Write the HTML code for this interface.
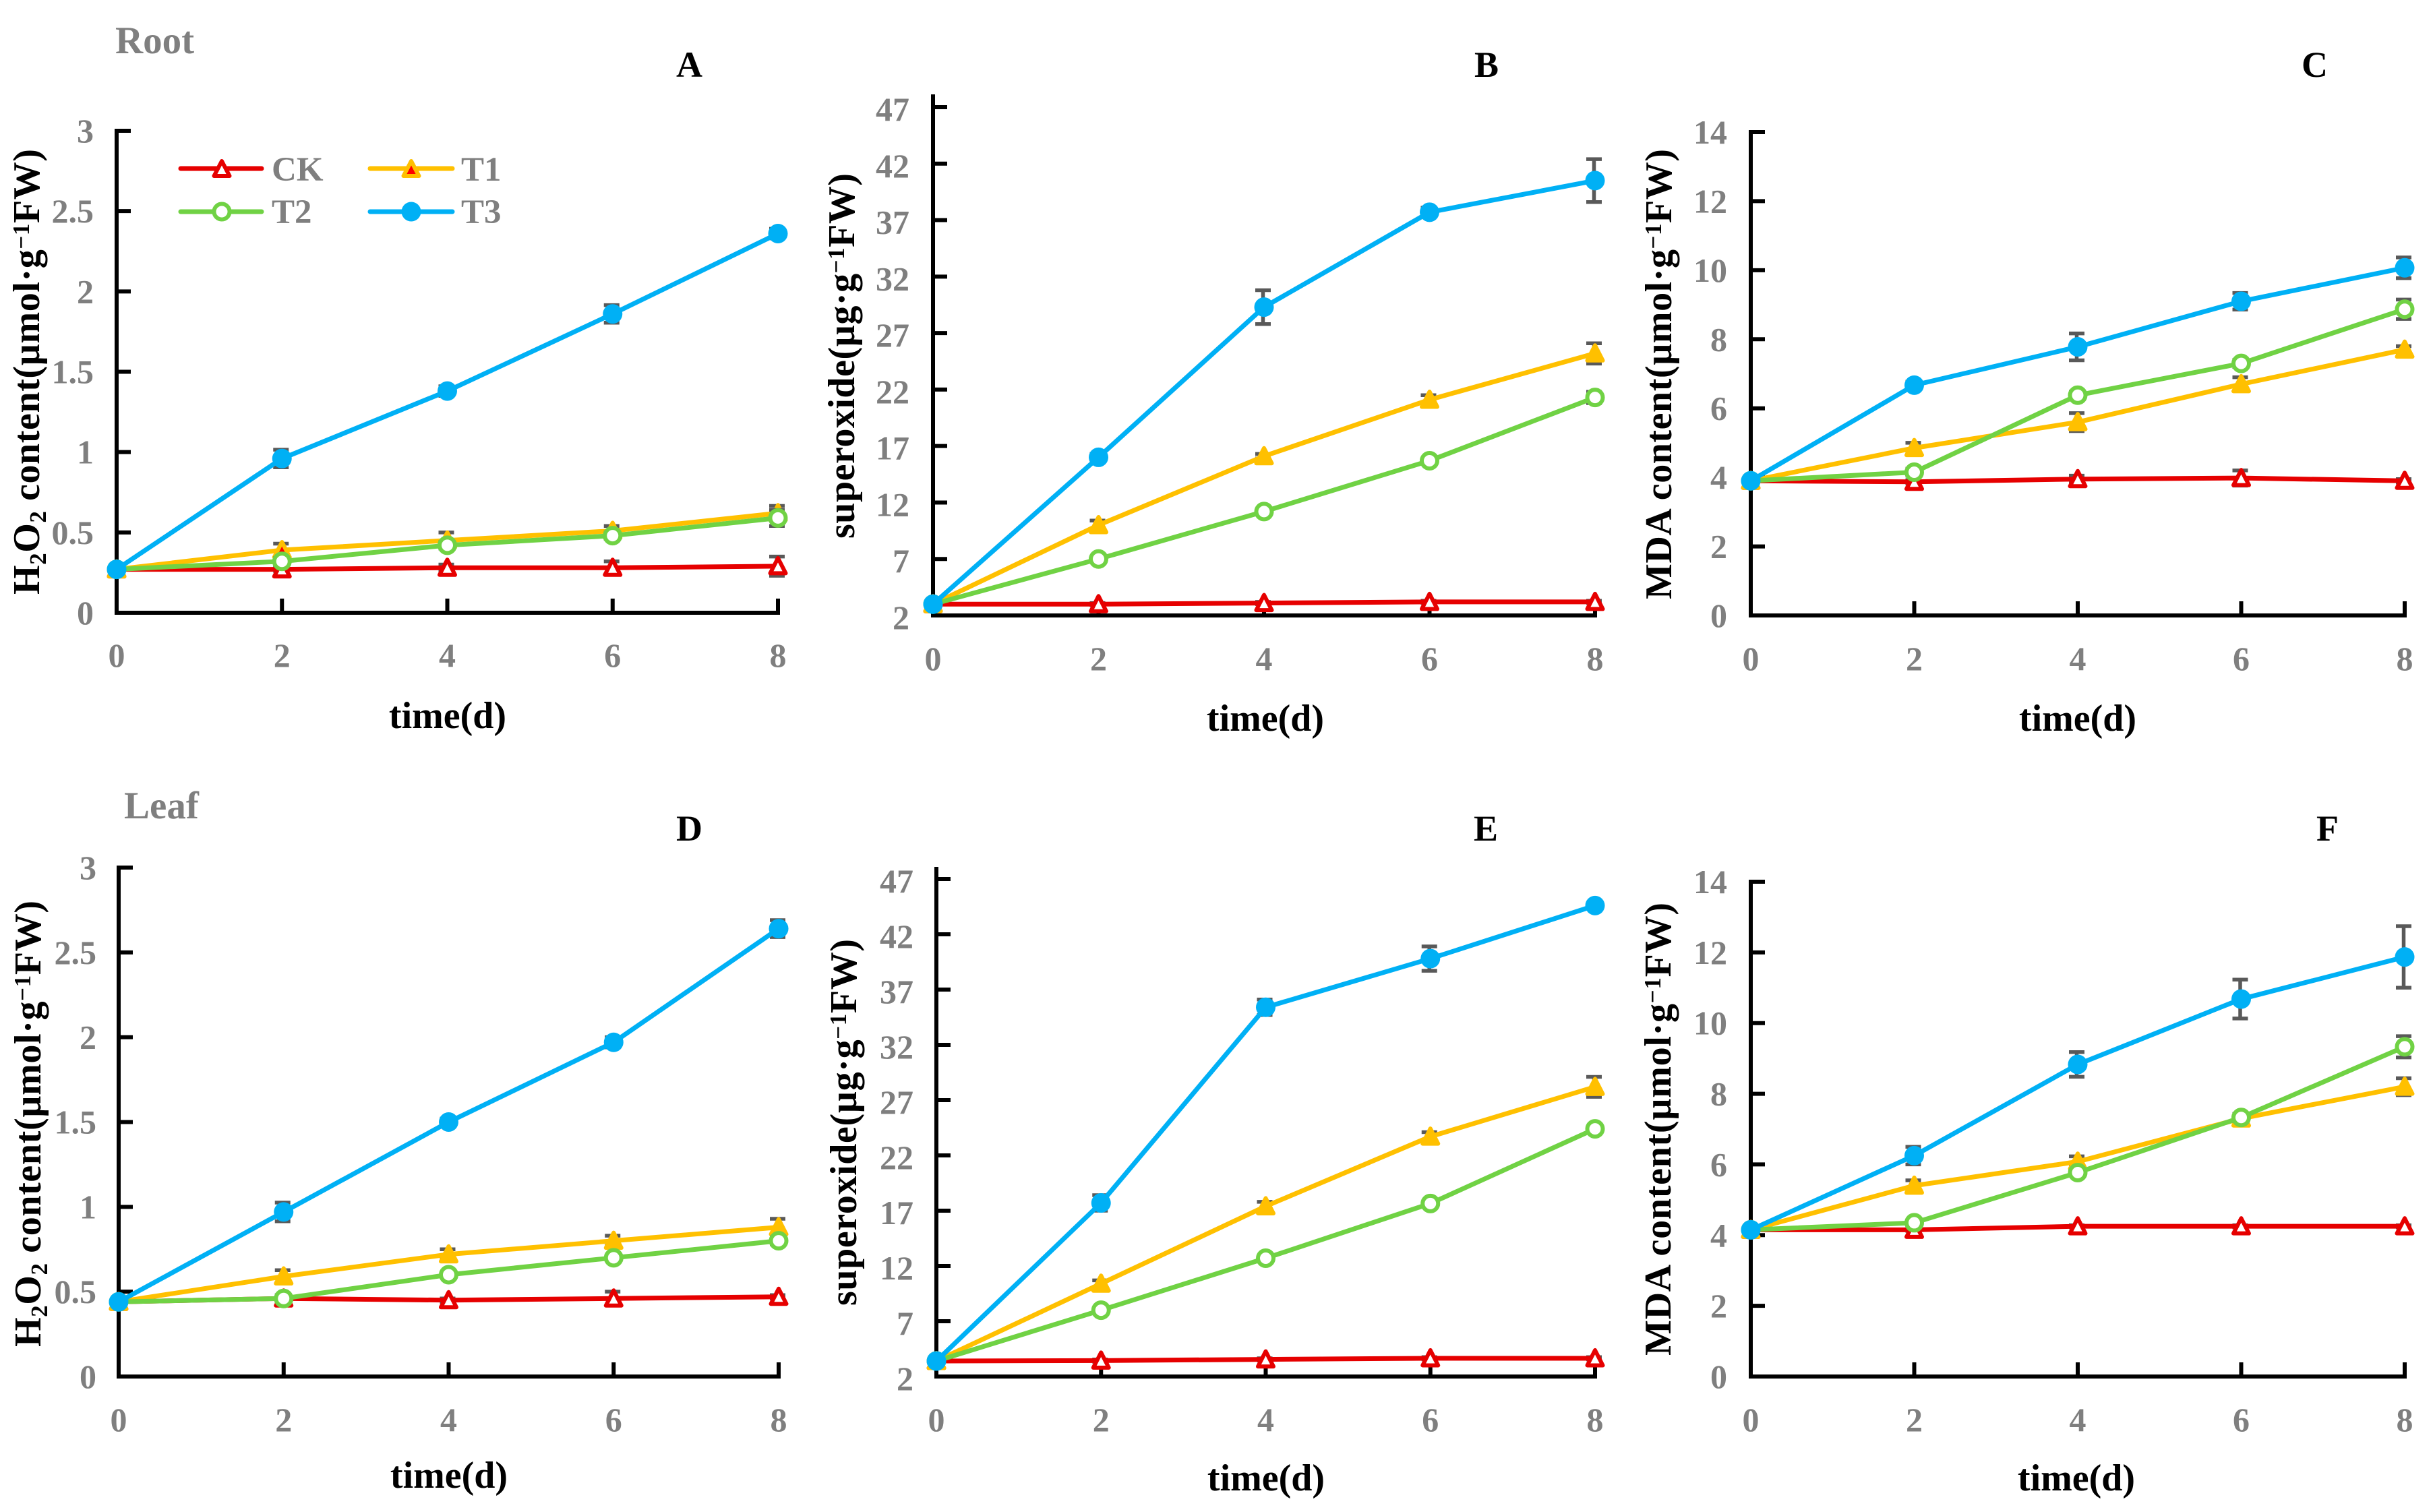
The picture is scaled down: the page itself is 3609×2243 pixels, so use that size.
<!DOCTYPE html>
<html lang="en">
<head>
<meta charset="utf-8">
<title>Root and leaf oxidative stress time courses</title>
<style>
html,body{margin:0;padding:0;background:#fff;}
svg{display:block;}
text{font-family:"Liberation Serif",serif;font-weight:bold;}
.gray{fill:#7f7f7f;}
.black{fill:#000;}
</style>
</head>
<body>
<svg id="figure" xmlns="http://www.w3.org/2000/svg" width="3609" height="2243" viewBox="0 0 3609 2243">
<rect x="0" y="0" width="3609" height="2243" fill="#fff"/>
<text class="gray" x="171" y="79" font-size="57">Root</text>
<text class="gray" x="184" y="1214" font-size="57">Leaf</text>

<text class="black" x="1003" y="114" font-size="54">A</text>
<text class="black" x="2187" y="114" font-size="54">B</text>
<text class="black" x="3414" y="114" font-size="54">C</text>
<text class="black" x="1003" y="1247" font-size="54">D</text>
<text class="black" x="2186" y="1247" font-size="54">E</text>
<text class="black" x="3436" y="1247" font-size="54">F</text>

<text class="black" x="664" y="1080" font-size="56" text-anchor="middle">time(d)</text>
<text class="black" x="1877" y="1084" font-size="56" text-anchor="middle">time(d)</text>
<text class="black" x="3082" y="1084" font-size="56" text-anchor="middle">time(d)</text>
<text class="black" x="666" y="2207" font-size="56" text-anchor="middle">time(d)</text>
<text class="black" x="1878" y="2211" font-size="56" text-anchor="middle">time(d)</text>
<text class="black" x="3080" y="2211" font-size="56" text-anchor="middle">time(d)</text>

<text class="black" font-size="56" transform="translate(58,882) rotate(-90)" textLength="661">H<tspan font-size="35" dy="10">2</tspan><tspan dy="-10">O</tspan><tspan font-size="35" dy="10">2</tspan><tspan dy="-10"> content(µmol·g</tspan><tspan font-size="35" dy="-15">−1</tspan><tspan dy="15">FW)</tspan></text>
<text class="black" font-size="56" transform="translate(1267,799) rotate(-90)" textLength="542">superoxide(µg·g<tspan font-size="35" dy="-15">−1</tspan><tspan dy="15">FW)</tspan></text>
<text class="black" font-size="56" transform="translate(2479,889) rotate(-90)" textLength="668">MDA content(µmol·g<tspan font-size="35" dy="-15">−1</tspan><tspan dy="15">FW)</tspan></text>
<text class="black" font-size="56" transform="translate(60,1998) rotate(-90)" textLength="662">H<tspan font-size="35" dy="10">2</tspan><tspan dy="-10">O</tspan><tspan font-size="35" dy="10">2</tspan><tspan dy="-10"> content(µmol·g</tspan><tspan font-size="35" dy="-15">−1</tspan><tspan dy="15">FW)</tspan></text>
<text class="black" font-size="56" transform="translate(1270,1937) rotate(-90)" textLength="544">superoxide(µg·g<tspan font-size="35" dy="-15">−1</tspan><tspan dy="15">FW)</tspan></text>
<text class="black" font-size="56" transform="translate(2478,2011) rotate(-90)" textLength="672">MDA content(µmol·g<tspan font-size="35" dy="-15">−1</tspan><tspan dy="15">FW)</tspan></text>

<g id="plots"></g>

<g id="legend">
  <g>
    <line x1="268" y1="250" x2="388" y2="250" stroke="#e60000" stroke-width="7" stroke-linecap="round"/>
    <path d="M329 239 L340.5 261 L317.5 261 Z" fill="#fff" stroke="#e60000" stroke-width="6" stroke-linejoin="round"/>
    <text class="gray" x="403" y="268" font-size="51">CK</text>
  </g>
  <g>
    <line x1="549" y1="250" x2="671" y2="250" stroke="#ffc000" stroke-width="7" stroke-linecap="round"/>
    <path d="M610 239 L621.5 261 L598.5 261 Z" fill="#ff0000" stroke="#ffc000" stroke-width="6" stroke-linejoin="round"/>
    <text class="gray" x="684" y="268" font-size="51">T1</text>
  </g>
  <g>
    <line x1="268" y1="314" x2="388" y2="314" stroke="#70d244" stroke-width="7" stroke-linecap="round"/>
    <circle cx="329" cy="314" r="11.5" fill="#fff" stroke="#70d244" stroke-width="6"/>
    <text class="gray" x="403" y="331" font-size="51">T2</text>
  </g>
  <g>
    <line x1="549" y1="314" x2="671" y2="314" stroke="#00b0f5" stroke-width="7" stroke-linecap="round"/>
    <circle cx="610" cy="314" r="14.5" fill="#00b0f5"/>
    <text class="gray" x="684" y="331" font-size="51">T3</text>
  </g>
</g>
</svg>

<script>
// Shared categories and tick labels
const days = [0, 2, 4, 6, 8];
const h2o2Ticks = [0, 0.5, 1, 1.5, 2, 2.5, 3];
const superoxideTicks = [2, 7, 12, 17, 22, 27, 32, 37, 42, 47];
const mdaTicks = [0, 2, 4, 6, 8, 10, 12, 14];

// Panel A: root H2O2
const aCK = [0.27, 0.27, 0.28, 0.28, 0.29];
const aT1 = [0.27, 0.39, 0.45, 0.51, 0.62];
const aT2 = [0.27, 0.32, 0.42, 0.48, 0.59];
const aT3 = [0.27, 0.96, 1.38, 1.86, 2.36];
const aErrCK = [0, 0.01, 0.02, 0.04, 0.06];
const aErrT1 = [0, 0.04, 0.05, 0.03, 0.045];
const aErrT2 = [0, 0.02, 0.02, 0.02, 0.05];
const aErrT3 = [0, 0.055, 0.03, 0.055, 0.03];

// Panel B: root superoxide
const bCK = [3.0, 3.0, 3.1, 3.2, 3.2];
const bT1 = [3.0, 10.0, 16.1, 21.1, 25.2];
const bT2 = [3.0, 7.0, 11.2, 15.7, 21.3];
const bT3 = [3.0, 16.0, 29.3, 37.7, 40.5];
const bErrCK = [0, 0.1, 0.1, 0.1, 0.1];
const bErrT1 = [0, 0.4, 0.2, 0.4, 0.9];
const bErrT2 = [0, 0.2, 0.2, 0.2, 0.5];
const bErrT3 = [0, 0.3, 1.5, 0.4, 1.9];

// Panel C: root MDA
const cCK = [3.9, 3.87, 3.95, 3.98, 3.9];
const cT1 = [3.9, 4.85, 5.6, 6.7, 7.7];
const cT2 = [3.9, 4.15, 6.38, 7.3, 8.87];
const cT3 = [3.9, 6.67, 7.78, 9.1, 10.07];
const cErrCK = [0, 0.05, 0.1, 0.22, 0.05];
const cErrT1 = [0, 0.15, 0.26, 0.2, 0.1];
const cErrT2 = [0, 0.1, 0.1, 0.1, 0.28];
const cErrT3 = [0, 0.1, 0.39, 0.24, 0.3];

// Panel D: leaf H2O2
const dCK = [0.44, 0.46, 0.45, 0.46, 0.47];
const dT1 = [0.44, 0.59, 0.72, 0.8, 0.88];
const dT2 = [0.44, 0.46, 0.6, 0.7, 0.8];
const dT3 = [0.44, 0.97, 1.5, 1.97, 2.64];
const dErrCK = [0, 0.02, 0.01, 0.04, 0.01];
const dErrT1 = [0, 0.037, 0.03, 0.03, 0.05];
const dErrT2 = [0, 0.01, 0.01, 0.01, 0.02];
const dErrT3 = [0, 0.055, 0.02, 0.03, 0.05];

// Panel E: leaf superoxide
const eCK = [3.4, 3.44, 3.55, 3.65, 3.65];
const eT1 = [3.4, 10.4, 17.4, 23.7, 28.2];
const eT2 = [3.4, 8.0, 12.7, 17.65, 24.4];
const eT3 = [3.4, 17.7, 35.4, 39.8, 44.6];
const eErrCK = [0, 0.1, 0.1, 0.1, 0.1];
const eErrT1 = [0, 0.3, 0.4, 0.4, 0.9];
const eErrT2 = [0, 0.1, 0.1, 0.1, 0.1];
const eErrT3 = [0, 0.7, 0.7, 1.1, 0.2];

// Panel F: leaf MDA
const fCK = [4.15, 4.15, 4.25, 4.25, 4.25];
const fT1 = [4.15, 5.4, 6.08, 7.3, 8.2];
const fT2 = [4.15, 4.35, 5.77, 7.33, 9.33];
const fT3 = [4.15, 6.25, 8.83, 10.68, 11.87];
const fErrCK = [0, 0.03, 0.03, 0.03, 0.03];
const fErrT1 = [0, 0.15, 0.15, 0.1, 0.24];
const fErrT2 = [0, 0.05, 0.05, 0.1, 0.3];
const fErrT3 = [0, 0.25, 0.35, 0.55, 0.87];

const seriesKeys = ['ck', 't1', 't2', 't3'];
const seriesColors = ['#e60000', '#ffc000', '#70d244', '#00b0f5'];
const errorColor = '#595959';
const NS = 'http://www.w3.org/2000/svg';

function make(tag, attrs, parent) {
  const node = document.createElementNS(NS, tag);
  for (const k in attrs) node.setAttribute(k, attrs[k]);
  parent.appendChild(node);
  return node;
}

function drawPanel(id, box, ticks, xLabels, series, errors, t1Fill) {
  const root = document.getElementById('plots');
  const g = make('g', {}, root);
  
  

  const xMin = xLabels[0];
  const xMax = xLabels[xLabels.length - 1];
  const yMin = ticks[0];
  const yMax = ticks[ticks.length - 1];
  const sx = function (v) { return box.left + (v - xMin) / (xMax - xMin) * (box.right - box.left); };
  const sy = function (v) { return box.bottom - (v - yMin) / (yMax - yMin) * (box.bottom - box.top); };

  // axes
  const yAxis = make('line', { x1: box.left, x2: box.left, y1: box.axisTop - 3, y2: box.bottom + 3, stroke: '#000', 'stroke-width': 6 }, g);
  
  
  const xAxis = make('line', { x1: box.left - 3, x2: box.right + 3, y1: box.bottom, y2: box.bottom, stroke: '#000', 'stroke-width': 6 }, g);
  
  

  ticks.forEach(function (t) {
    const y = sy(t);
    const tick = make('line', { x1: box.left, x2: box.left + 21, y1: y, y2: y, stroke: '#000', 'stroke-width': 6 }, g);
    
    
    const label = make('text', { x: box.labelRight, y: y + 17 + box.labelShift, 'font-size': 50, 'text-anchor': 'end', class: 'gray' }, g);
    
    
    label.textContent = String(t);
  });

  xLabels.forEach(function (d) {
    const x = sx(d);
    if (d !== xMin) {
      const tick = make('line', { x1: x, x2: x, y1: box.bottom - 21, y2: box.bottom, stroke: '#000', 'stroke-width': 6 }, g);
      
      
    }
    const label = make('text', { x: x, y: box.xLabelY, 'font-size': 50, 'text-anchor': 'middle', class: 'gray' }, g);
    
    
    label.textContent = String(d);
  });

  // series
  series.forEach(function (values, s) {
    const key = seriesKeys[s];
    const color = seriesColors[s];
    const sg = make('g', {}, g);
    
    

    values.forEach(function (v, i) {
      const e = errors[s][i];
      if (!e) return;
      const x = sx(xLabels[i]) - 1.5;
      const y1 = sy(v - e);
      const y2 = sy(v + e);
      const bar = make('path', {
        d: 'M' + x + ' ' + y1 + 'V' + y2 + 'M' + (x - 11.5) + ' ' + y1 + 'H' + (x + 11.5) + 'M' + (x - 11.5) + ' ' + y2 + 'H' + (x + 11.5),
        fill: 'none', stroke: errorColor, 'stroke-width': 5.5
      }, sg);
      
      
    });

    const pts = values.map(function (v, i) { return sx(xLabels[i]) + ',' + sy(v); }).join(' ');
    const line = make('polyline', { points: pts, fill: 'none', stroke: color, 'stroke-width': 7, 'stroke-linejoin': 'round', 'stroke-linecap': 'round' }, sg);
    
    

    values.forEach(function (v, i) {
      const x = sx(xLabels[i]);
      const y = sy(v);
      let mark;
      if (s === 0 || s === 1) {
        const fill = s === 0 ? '#fff' : t1Fill;
        mark = make('path', {
          d: 'M' + x + ' ' + (y - 12) + 'L' + (x + 11.5) + ' ' + (y + 10.5) + 'L' + (x - 11.5) + ' ' + (y + 10.5) + 'Z',
          fill: fill, stroke: color, 'stroke-width': 6, 'stroke-linejoin': 'round'
        }, sg);
      } else if (s === 2) {
        mark = make('circle', { cx: x, cy: y, r: 11.5, fill: '#fff', stroke: color, 'stroke-width': 6 }, sg);
      } else {
        mark = make('circle', { cx: x, cy: y, r: 14.5, fill: color }, sg);
      }
      
      
    });
  });
}

drawPanel('a', { left: 173, right: 1154, top: 194, bottom: 909, axisTop: 194, labelRight: 139, labelShift: 0, xLabelY: 989 },
  h2o2Ticks, days, [aCK, aT1, aT2, aT3], [aErrCK, aErrT1, aErrT2, aErrT3], '#ff0000');
drawPanel('b', { left: 1384, right: 2366, top: 159, bottom: 913, axisTop: 143, labelRight: 1349, labelShift: 3, xLabelY: 994 },
  superoxideTicks, days, [bCK, bT1, bT2, bT3], [bErrCK, bErrT1, bErrT2, bErrT3], '#ffc000');
drawPanel('c', { left: 2597, right: 3567, top: 196, bottom: 913, axisTop: 196, labelRight: 2562, labelShift: 0, xLabelY: 994 },
  mdaTicks, days, [cCK, cT1, cT2, cT3], [cErrCK, cErrT1, cErrT2, cErrT3], '#ffc000');
drawPanel('d', { left: 176, right: 1155, top: 1287, bottom: 2042, axisTop: 1287, labelRight: 143, labelShift: 0, xLabelY: 2123 },
  h2o2Ticks, days, [dCK, dT1, dT2, dT3], [dErrCK, dErrT1, dErrT2, dErrT3], '#ffc000');
drawPanel('e', { left: 1389, right: 2366, top: 1304, bottom: 2042, axisTop: 1289, labelRight: 1355, labelShift: 3, xLabelY: 2123 },
  superoxideTicks, days, [eCK, eT1, eT2, eT3], [eErrCK, eErrT1, eErrT2, eErrT3], '#ffc000');
drawPanel('f', { left: 2597, right: 3567, top: 1308, bottom: 2042, axisTop: 1308, labelRight: 2562, labelShift: 0, xLabelY: 2123 },
  mdaTicks, days, [fCK, fT1, fT2, fT3], [fErrCK, fErrT1, fErrT2, fErrT3], '#ffc000');
</script>
</body>
</html>
